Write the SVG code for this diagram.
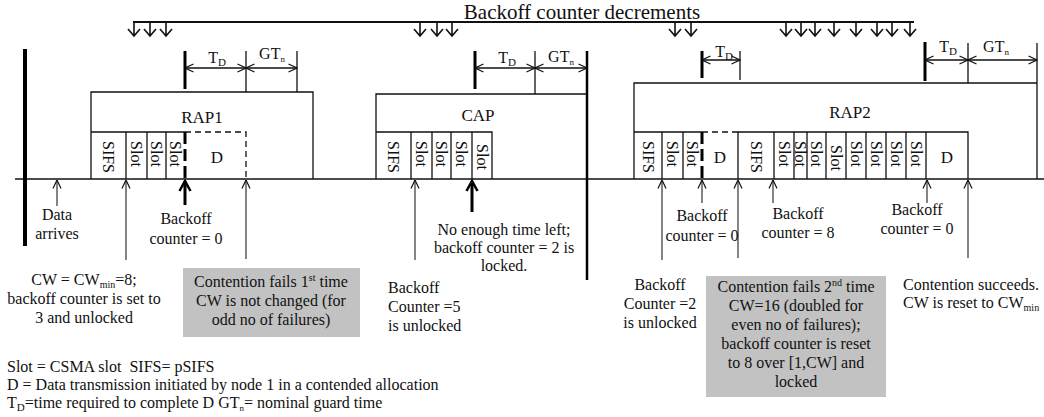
<svg xmlns="http://www.w3.org/2000/svg" width="1044" height="417" viewBox="0 0 1044 417">
<defs>
<style>
text{font-family:"Liberation Serif","Times New Roman",serif;font-size:16px;fill:#111}
.c{text-anchor:middle}
.v{text-anchor:middle;dominant-baseline:central}
.big{font-size:17px}
.l{stroke:#111;stroke-width:1.3;fill:none}
.k{stroke:#000;stroke-width:3;fill:none}
.g{stroke:#333;stroke-width:1.2;fill:none}
.d{stroke-dasharray:6 4}
.kd{stroke-dasharray:12 5}
.gray{fill:#c2c2c2}
</style>
<marker id="a" viewBox="0 0 10 10" refX="9.5" refY="5" markerWidth="10" markerHeight="10" markerUnits="userSpaceOnUse" orient="auto-start-reverse"><path d="M1,1 L9.5,5 L1,9" fill="none" stroke="#111" stroke-width="1.2"/></marker>
<marker id="A" viewBox="0 0 14 14" refX="12" refY="7" markerWidth="14" markerHeight="14" markerUnits="userSpaceOnUse" orient="auto"><path d="M2,1.5 L12,7 L2,12.5" fill="none" stroke="#000" stroke-width="2.5"/></marker>
<path id="dn" d="M0,22 V36 M-6,29 L0,36 L6,29" fill="none" stroke="#111" stroke-width="1.6"/>
</defs>
<rect width="1044" height="417" fill="#fff"/>

<g id="decrements">
<text class="c" x="582" y="19" style="font-size:21px">Backoff counter decrements</text>
<path d="M133,22 H914" stroke="#111" stroke-width="2"/>
<use href="#dn" x="134"/><use href="#dn" x="150"/><use href="#dn" x="166"/>
<use href="#dn" x="420"/><use href="#dn" x="437"/><use href="#dn" x="452"/>
<use href="#dn" x="675"/><use href="#dn" x="691"/>
<use href="#dn" x="786"/><use href="#dn" x="801"/><use href="#dn" x="815"/><use href="#dn" x="834"/><use href="#dn" x="856"/><use href="#dn" x="877"/><use href="#dn" x="892"/><use href="#dn" x="910"/>
</g>

<g id="timeline">
<path d="M15,179 H1044" stroke="#111" stroke-width="1.5"/>
<path d="M25,49 V246" stroke="#000" stroke-width="4"/>
</g>

<g id="rap1">
<path class="l" d="M91,179 V92 H313 V179"/>
<path class="l" d="M91,132 H185 M126,132 V179 M147,132 V179 M166,132 V179"/>
<path class="l d" d="M185,132 H246 V179"/>
<path class="k kd" d="M185,132 V179"/>
<text class="c big" x="202" y="123">RAP1</text>
<text class="v" transform="translate(108.5,157) rotate(90)">SIFS</text>
<text class="v" transform="translate(136.5,154) rotate(90)">Slot</text>
<text class="v" transform="translate(156.5,154) rotate(90)">Slot</text>
<text class="v" transform="translate(175.5,154) rotate(90)">Slot</text>
<text class="c big" x="217" y="163">D</text>
<path class="k" d="M185,51 V89"/>
<path class="l" d="M246,51 V92 M297,51 V92"/>
<path class="l" d="M185,68 H246" marker-start="url(#a)" marker-end="url(#a)"/>
<path class="l" d="M246,68 H297" marker-start="url(#a)" marker-end="url(#a)"/>
<text class="c" x="217" y="63">T<tspan font-size="11" dy="3">D</tspan></text>
<text class="c" x="272" y="59">GT<tspan font-size="9" dy="3">n</tspan></text>
</g>

<g id="cap">
<path class="l" d="M376,179 V94 H587"/>
<path d="M587,51 V280" stroke="#000" stroke-width="2.5"/>
<path class="l" d="M376,132 H492 V179 M411,132 V179 M432,132 V179 M451,132 V179 M472,132 V179"/>
<text class="c big" x="478" y="121">CAP</text>
<text class="v" transform="translate(393.5,157) rotate(90)">SIFS</text>
<text class="v" transform="translate(421.5,154) rotate(90)">Slot</text>
<text class="v" transform="translate(441.5,154) rotate(90)">Slot</text>
<text class="v" transform="translate(461.5,154) rotate(90)">Slot</text>
<text class="v" transform="translate(482,157) rotate(90)">Slot</text>
<path class="k" d="M475,51 V89"/>
<path class="l" d="M535,51 V94"/>
<path class="l" d="M475,68 H535" marker-start="url(#a)" marker-end="url(#a)"/>
<path class="l" d="M535,68 H587" marker-start="url(#a)" marker-end="url(#a)"/>
<text class="c" x="507" y="63">T<tspan font-size="11" dy="3">D</tspan></text>
<text class="c" x="561" y="62">GT<tspan font-size="9" dy="3">n</tspan></text>
</g>

<g id="rap2">
<path class="l" d="M634,179 V83 H1037 M1037,43 V179"/>
<path class="l" d="M634,132 H702 M738,132 H968 V179"/>
<path class="l d" d="M702,132 H738"/>
<path class="k kd" d="M702,132 V179"/>
<path class="l" d="M662,132 V179 M683,132 V179 M738,132 V179 M774,132 V179 M794,132 V179 M807,132 V179 M826,132 V179 M846,132 V179 M866,132 V179 M886,132 V179 M906,132 V179 M926,132 V179"/>
<text class="c big" x="850" y="118">RAP2</text>
<text class="v" transform="translate(648,157) rotate(90)">SIFS</text>
<text class="v" transform="translate(672.5,154) rotate(90)">Slot</text>
<text class="v" transform="translate(692.5,154) rotate(90)">Slot</text>
<text class="c big" x="720" y="163">D</text>
<text class="v" transform="translate(756,157) rotate(90)">SIFS</text>
<text class="v" transform="translate(784,154) rotate(90)">Slot</text>
<text class="v" transform="translate(800.5,154) rotate(90)">Slot</text>
<text class="v" transform="translate(816.5,154) rotate(90)">Slot</text>
<text class="v" transform="translate(836,158) rotate(90)">Slot</text>
<text class="v" transform="translate(856,154) rotate(90)">Slot</text>
<text class="v" transform="translate(876,154) rotate(90)">Slot</text>
<text class="v" transform="translate(896,154) rotate(90)">Slot</text>
<text class="v" transform="translate(916,154) rotate(90)">Slot</text>
<text class="c big" x="947" y="163">D</text>
<path class="k" d="M702,51 V78"/>
<path class="l" d="M740,51 V80"/>
<path class="l" d="M702,60 H740" marker-start="url(#a)" marker-end="url(#a)"/>
<text class="c" x="724" y="57">T<tspan font-size="11" dy="3">D</tspan></text>
<path class="k" d="M925,42 V81"/>
<path class="l" d="M968,43 V83"/>
<path class="l" d="M925,60 H968" marker-start="url(#a)" marker-end="url(#a)"/>
<path class="l" d="M968,60 H1037" marker-start="url(#a)" marker-end="url(#a)"/>
<text class="c" x="948" y="52">T<tspan font-size="11" dy="3">D</tspan></text>
<text class="c" x="996" y="52">GT<tspan font-size="9" dy="3">n</tspan></text>
</g>

<g id="connectors">
<path class="g" d="M57,206 V180" marker-end="url(#a)"/>
<path class="g" d="M126,260 V180" marker-end="url(#a)"/>
<path d="M185,205 V181" stroke="#000" stroke-width="3" marker-end="url(#A)"/>
<path class="g" d="M246,259 V180" marker-end="url(#a)"/>
<path class="g" d="M415,260 V180" marker-end="url(#a)"/>
<path d="M472,212 V181" stroke="#000" stroke-width="3" marker-end="url(#A)"/>
<path class="g" d="M662,260 V180" marker-end="url(#a)"/>
<path class="g" d="M702,203 V180" marker-end="url(#a)"/>
<path class="g" d="M738,258 V180" marker-end="url(#a)"/>
<path class="g" d="M773,203 V180" marker-end="url(#a)"/>
<path class="g" d="M927,203 V180" marker-end="url(#a)"/>
<path class="g" d="M968,258 V180" marker-end="url(#a)"/>
</g>

<g id="note-data-arrives">
<text class="c" x="57" y="220">Data</text>
<text class="c" x="57" y="239">arrives</text>
</g>
<g id="note-bc0-1">
<text class="c" x="186" y="224">Backoff</text>
<text class="c" x="186" y="244">counter = 0</text>
</g>
<g id="note-no-time">
<text class="c" x="504" y="235">No enough time left;</text>
<text class="c" x="504" y="253">backoff counter = 2 is</text>
<text class="c" x="504" y="271">locked.</text>
</g>
<g id="note-bc0-2">
<text class="c" x="702" y="221">Backoff</text>
<text class="c" x="702" y="241">counter = 0</text>
</g>
<g id="note-bc8">
<text class="c" x="798" y="219">Backoff</text>
<text class="c" x="798" y="238">counter = 8</text>
</g>
<g id="note-bc0-3">
<text class="c" x="917" y="215">Backoff</text>
<text class="c" x="917" y="234">counter = 0</text>
</g>
<g id="note-cwmin">
<text class="c" x="84" y="285">CW = CW<tspan font-size="10" dy="3">min</tspan><tspan dy="-3">=8;</tspan></text>
<text class="c" x="84" y="304">backoff counter is set to</text>
<text class="c" x="84" y="323">3 and unlocked</text>
</g>
<g id="note-fail1">
<rect class="gray" x="183" y="268" width="177" height="69"/>
<text class="c" x="271" y="287">Contention fails 1<tspan font-size="10" dy="-6">st</tspan><tspan dy="6"> time</tspan></text>
<text class="c" x="271" y="306">CW is not changed (for</text>
<text class="c" x="271" y="325">odd no of failures)</text>
</g>
<g id="note-bc5">
<text x="388" y="293">Backoff</text>
<text x="388" y="312">Counter =5</text>
<text x="388" y="331">is unlocked</text>
</g>
<g id="note-bc2">
<text class="c" x="660" y="290">Backoff</text>
<text class="c" x="660" y="309">Counter =2</text>
<text class="c" x="660" y="328">is unlocked</text>
</g>
<g id="note-fail2">
<rect class="gray" x="706" y="276" width="180" height="121"/>
<text class="c" x="796" y="292">Contention fails 2<tspan font-size="10" dy="-6">nd</tspan><tspan dy="6"> time</tspan></text>
<text class="c" x="796" y="311">CW=16 (doubled for</text>
<text class="c" x="796" y="330">even no of failures);</text>
<text class="c" x="796" y="349">backoff counter is reset</text>
<text class="c" x="796" y="368">to 8 over [1,CW] and</text>
<text class="c" x="796" y="387">locked</text>
</g>
<g id="note-success">
<text x="903" y="290">Contention succeeds.</text>
<text x="903" y="308">CW is reset to CW<tspan font-size="10" dy="3">min</tspan></text>
</g>
<g id="legend">
<text x="7" y="372" xml:space="preserve">Slot = CSMA slot  SIFS= pSIFS</text>
<text x="7" y="390">D = Data transmission initiated by node 1 in a contended allocation</text>
<text x="7" y="408">T<tspan font-size="11" dy="3">D</tspan><tspan dy="-3">=time required to complete D GT</tspan><tspan font-size="9" dy="3">n</tspan><tspan dy="-3">= nominal guard time</tspan></text>
</g>
</svg>
